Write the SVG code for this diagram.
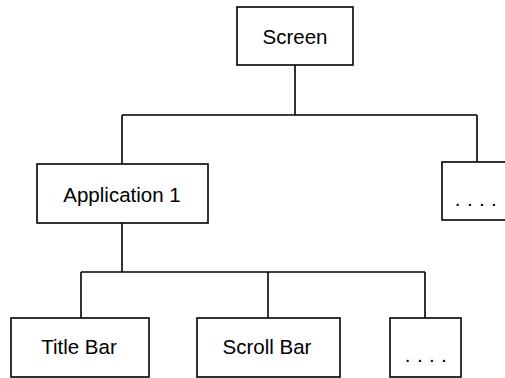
<svg xmlns="http://www.w3.org/2000/svg" width="505" height="378" viewBox="0 0 505 378">
<style>
.box{fill:#fff;stroke:#000;stroke-width:1.6}
.ln{fill:none;stroke:#000;stroke-width:1.6}
text{font-family:"Liberation Sans",Arial,sans-serif;font-size:20.5px;fill:#000;text-anchor:middle}
.dots{letter-spacing:6.4px}
</style>
<rect width="505" height="378" fill="#fff"/>
<g id="connectors">
<path class="ln" d="M295 65V115M122 115H477M122 115V164M477 115V162"/>
<path class="ln" d="M122 223V272M81 272H425M81 272V318M268 272V318M425 272V318"/>
</g>
<g id="screen"><rect class="box" x="237" y="7" width="116" height="58"/><text x="295" y="43.5">Screen</text></g>
<g id="app1"><rect class="box" x="37" y="164" width="171" height="59"/><text x="122" y="201.5">Application 1</text></g>
<g id="more1"><rect class="box" x="442" y="162" width="72" height="58"/><text class="dots" x="479" y="206">....</text></g>
<g id="titlebar"><rect class="box" x="11" y="318" width="138" height="59"/><text x="79" y="353.5">Title Bar</text></g>
<g id="scrollbar"><rect class="box" x="197" y="318" width="143" height="59"/><text x="267" y="353.5">Scroll Bar</text></g>
<g id="more2"><rect class="box" x="390" y="318" width="71" height="59"/><text class="dots" x="429" y="362">....</text></g>
</svg>
